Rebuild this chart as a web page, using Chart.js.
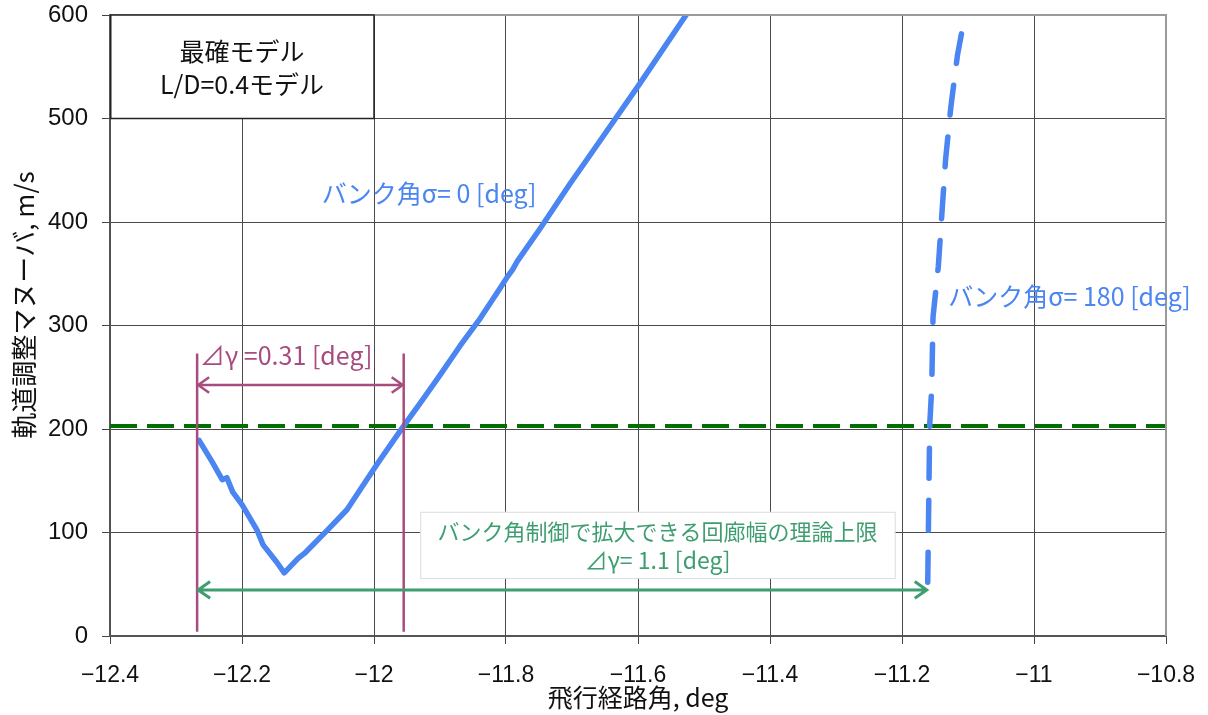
<!DOCTYPE html>
<html>
<head>
<meta charset="utf-8">
<script src="https://cdn.jsdelivr.net/npm/chart.js@4.4.1/dist/chart.umd.min.js"></script>
<style>
  html, body { margin: 0; padding: 0; background: #ffffff; }
  #wrap { width: 1208px; height: 715px; }
</style>
</head>
<body>
<div id="wrap"><canvas id="c" width="1208" height="715"></canvas></div>
<script>
// Axis ticks
const xTicks = [-12.4, -12.2, -12, -11.8, -11.6, -11.4, -11.2, -11, -10.8];
const yTicks = [0, 100, 200, 300, 400, 500, 600];

// Bank angle 0 deg: flight path angle vs. orbit-adjust delta-V
const bank0X = [-12.265, -12.245, -12.230, -12.223, -12.214, -12.200, -12.177, -12.168, -12.147, -12.136,
                -12.115, -12.105, -12.071, -12.041, -12.011, -11.991, -11.955, -11.930, -11.900, -11.870,
                -11.839, -11.809, -11.798, -11.790, -11.783, -11.748, -11.703, -11.658, -11.597, -11.524];
const bank0Y = [189, 168, 151, 153, 139, 127, 102, 88, 71, 61,
                75, 80, 102, 122, 151, 170, 203, 225, 252, 280,
                307, 336, 347, 354, 362, 394, 437, 478, 534, 603];

// Bank angle 180 deg
const bank180X = [-11.161, -11.158, -11.155, -11.153, -11.145, -11.134, -11.126, -11.116, -11.106];
const bank180Y = [52, 204, 239, 308, 357, 460, 511, 561, 595];

// Delta-V limit
const limitX = [-12.4, -10.8];
const limitY = [203, 203];

// Corridor widths (flight path angle bounds)
const corridorBank = [-12.268, -11.955];   // ⊿γ = 0.31 deg
const corridorMax = [-12.268, -11.161];    // ⊿γ = 1.1 deg

const toXY = (xs, ys) => xs.map((x, i) => ({ x: x, y: ys[i] }));
const fmt = v => String(Math.round(v * 10) / 10).replace('-', '\u2212');

const BLUE = '#4a85f2';
const PURPLE = '#a84c80';
const GREEN = '#3f9e70';
const JP = "'Noto Sans CJK JP', 'Noto Sans', sans-serif";

function arrowH(ctx, x1, x2, y, head) {
  ctx.beginPath();
  ctx.moveTo(x1, y); ctx.lineTo(x2, y);
  ctx.moveTo(x1 + head, y - head * 0.7); ctx.lineTo(x1, y); ctx.lineTo(x1 + head, y + head * 0.7);
  ctx.moveTo(x2 - head, y - head * 0.7); ctx.lineTo(x2, y); ctx.lineTo(x2 - head, y + head * 0.7);
  ctx.stroke();
}

const annotations = {
  id: 'annotations',
  afterDatasetsDraw(chart) {
    const { ctx, chartArea: a, scales: { x, y } } = chart;
    ctx.save();

    // plot frame (top / right)
    ctx.strokeStyle = '#9a9a9a';
    ctx.lineWidth = 2;
    ctx.beginPath();
    ctx.moveTo(a.left, a.top); ctx.lineTo(a.right, a.top); ctx.lineTo(a.right, a.bottom);
    ctx.stroke();

    // model box
    const bx1 = x.getPixelForValue(-12.4), bx2 = x.getPixelForValue(-12.0);
    const by1 = y.getPixelForValue(600), by2 = y.getPixelForValue(500);
    ctx.fillStyle = '#ffffff';
    ctx.fillRect(bx1, by1, bx2 - bx1, by2 - by1);
    ctx.strokeStyle = '#222222';
    ctx.lineWidth = 1.5;
    ctx.strokeRect(bx1 + 0.75, by1, bx2 - bx1 - 0.75, by2 - by1);
    ctx.fillStyle = '#111111';
    ctx.font = '25px ' + JP;
    ctx.textAlign = 'center';
    ctx.textBaseline = 'middle';
    ctx.fillText('最確モデル', (bx1 + bx2) / 2, y.getPixelForValue(565));
    ctx.fillText('L/D=0.4モデル', (bx1 + bx2) / 2, y.getPixelForValue(533));

    // bank-controlled corridor (purple)
    ctx.strokeStyle = PURPLE;
    ctx.lineWidth = 2.5;
    corridorBank.forEach(v => {
      const px = x.getPixelForValue(v);
      ctx.beginPath();
      ctx.moveTo(px, y.getPixelForValue(273));
      ctx.lineTo(px, y.getPixelForValue(4));
      ctx.stroke();
    });
    arrowH(ctx, x.getPixelForValue(corridorBank[0]) + 1, x.getPixelForValue(corridorBank[1]) - 1,
           y.getPixelForValue(242.5), 11);
    ctx.fillStyle = PURPLE;
    ctx.font = '25px ' + JP;
    ctx.textAlign = 'left';
    ctx.textBaseline = 'middle';
    ctx.fillText('⊿γ =0.31 [deg]', x.getPixelForValue(-12.264), y.getPixelForValue(271));

    // theoretical corridor limit (green)
    ctx.strokeStyle = GREEN;
    ctx.lineWidth = 3;
    arrowH(ctx, x.getPixelForValue(corridorMax[0]) + 1, x.getPixelForValue(corridorMax[1]) - 1,
           y.getPixelForValue(44.5), 12);

    const tx1 = x.getPixelForValue(-11.930), tx2 = x.getPixelForValue(-11.211);
    const ty1 = y.getPixelForValue(120), ty2 = y.getPixelForValue(56);
    ctx.fillStyle = '#ffffff';
    ctx.fillRect(tx1, ty1, tx2 - tx1, ty2 - ty1);
    ctx.strokeStyle = '#dcdcdc';
    ctx.lineWidth = 1;
    ctx.strokeRect(tx1 + 0.5, ty1 + 0.5, tx2 - tx1, ty2 - ty1);
    ctx.fillStyle = GREEN;
    ctx.textAlign = 'center';
    ctx.font = '22px ' + JP;
    const cx = (tx1 + tx2) / 2;
    ctx.fillText('バンク角制御で拡大できる回廊幅の理論上限', cx, y.getPixelForValue(101));
    ctx.font = '23px ' + JP;
    ctx.fillText('⊿γ= 1.1 [deg]', cx, y.getPixelForValue(73));

    // series labels
    ctx.fillStyle = BLUE;
    ctx.textAlign = 'left';
    ctx.font = '25px ' + JP;
    ctx.fillText('バンク角σ= 0 [deg]', x.getPixelForValue(-12.079), y.getPixelForValue(428));
    ctx.fillText('バンク角σ= 180 [deg]', x.getPixelForValue(-11.130), y.getPixelForValue(328));

    // y-axis title
    ctx.save();
    ctx.translate(24, 305);
    ctx.rotate(-Math.PI / 2);
    ctx.fillStyle = '#111111';
    ctx.textAlign = 'center';
    ctx.font = '26px ' + JP;
    ctx.fillText('軌道調整マヌーバ, m/s', 0, 0);
    ctx.restore();

    ctx.restore();
  }
};

new Chart(document.getElementById('c'), {
  type: 'scatter',
  data: {
    datasets: [
      {
        label: 'バンク角σ= 0 [deg]',
        data: toXY(bank0X, bank0Y),
        showLine: true, borderColor: BLUE, borderWidth: 5.5,
        pointRadius: 0, borderCapStyle: 'round', borderJoinStyle: 'round', tension: 0
      },
      {
        label: 'バンク角σ= 180 [deg]',
        data: toXY(bank180X, bank180Y),
        showLine: true, borderColor: BLUE, borderWidth: 5.5,
        borderDash: [30, 22], borderCapStyle: 'round',
        pointRadius: 0, tension: 0
      },
      {
        label: '200 m/s',
        data: toXY(limitX, limitY),
        showLine: true, borderColor: '#007000', borderWidth: 4,
        borderDash: [27, 10], pointRadius: 0
      }
    ]
  },
  options: {
    responsive: false,
    animation: false,
    devicePixelRatio: 1,
    layout: { padding: { top: 15, right: 42, left: 0, bottom: 0 } },
    plugins: { legend: { display: false }, tooltip: { enabled: false } },
    scales: {
      x: {
        type: 'linear', min: -12.4, max: -10.8,
        afterBuildTicks: s => { s.ticks = xTicks.map(v => ({ value: v })); },
        afterFit: s => { s.height = 79; s.paddingLeft = 0; s.paddingRight = 0; },
        ticks: {
          callback: v => fmt(v), color: '#111111', padding: 18, maxRotation: 0,
          font: { family: "'Liberation Sans', Arial, sans-serif", size: 23 }
        },
        grid: {
          color: '#4a4a4a', lineWidth: 1, borderDash: [2, 2],
          tickLength: 8, tickColor: '#444444', tickBorderDash: [], tickWidth: 1
        },
        border: { display: true, color: '#555555', width: 2 },
        title: {
          display: true, text: '飛行経路角, deg', color: '#111111',
          font: { family: JP, size: 25, lineHeight: 1.2 }, padding: { top: 0, bottom: 3 }
        }
      },
      y: {
        type: 'linear', min: 0, max: 600,
        afterBuildTicks: s => { s.ticks = yTicks.map(v => ({ value: v })); },
        afterFit: s => { s.width = 110; s.paddingTop = 0; s.paddingBottom = 0; },
        ticks: {
          callback: v => fmt(v), color: '#111111', padding: 14,
          font: { family: "'Liberation Sans', Arial, sans-serif", size: 24 }
        },
        grid: {
          color: '#4a4a4a', lineWidth: 1, borderDash: [2, 2],
          tickLength: 8, tickColor: '#444444', tickBorderDash: [], tickWidth: 1
        },
        border: { display: true, color: '#555555', width: 1.5 }
      }
    }
  },
  plugins: [annotations]
});
</script>
</body>
</html>
